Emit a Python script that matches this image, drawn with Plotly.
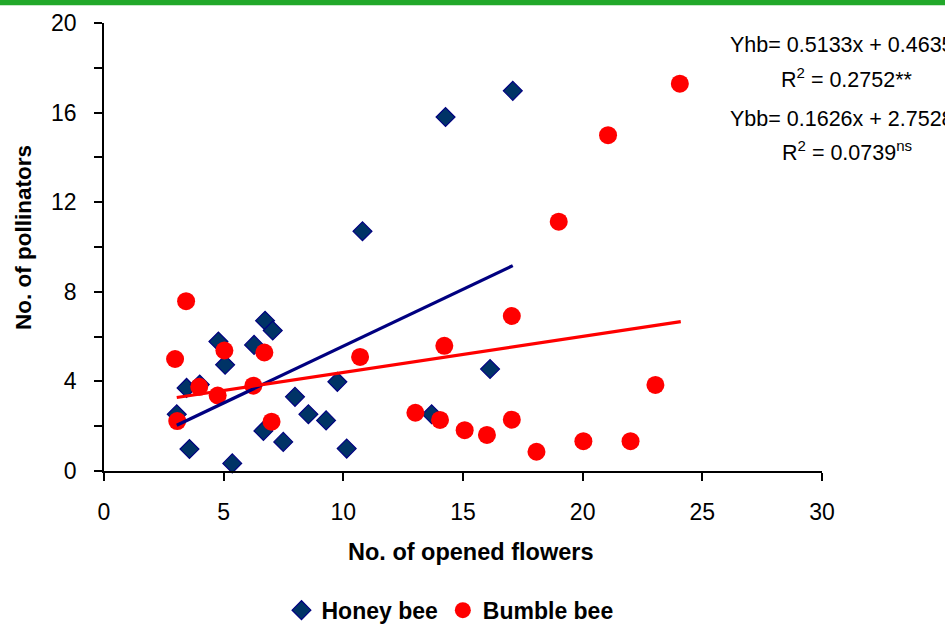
import plotly.graph_objects as go

# Honey bee observations (x: opened flowers, y: pollinators)
hb_x = [3.04, 3.45, 4.0, 3.57, 4.78, 5.06, 5.36, 6.27, 6.73, 7.05, 6.66,
        7.49, 7.98, 8.54, 9.28, 9.75, 10.14, 10.8, 13.69, 14.27, 16.13, 17.08]
hb_y = [2.53, 3.71, 3.86, 0.98, 5.78, 4.74, 0.34, 5.63, 6.71, 6.27, 1.79,
        1.30, 3.31, 2.53, 2.26, 3.98, 1.0, 10.7, 2.53, 15.8, 4.55, 16.97]

# Bumble bee observations
bb_x = [2.97, 3.06, 3.43, 3.98, 4.75, 5.03, 6.24, 6.70, 7.0, 10.7, 13.01,
        14.04, 14.22, 15.07, 16.0, 17.04, 17.04, 18.07, 19.0, 20.03, 21.06,
        22.0, 23.04, 24.06]
bb_y = [5.0, 2.23, 7.58, 3.76, 3.37, 5.38, 3.81, 5.29, 2.2, 5.09, 2.6,
        2.28, 5.59, 1.82, 1.61, 2.29, 6.92, 0.86, 11.13, 1.33, 14.99,
        1.33, 3.84, 17.29]

# Trend lines
hb_fit_x = [3.04, 17.08]
hb_fit_y = [2.04, 9.17]
bb_fit_x = [3.04, 24.1]
bb_fit_y = [3.28, 6.67]

x_ticks = [0, 5, 10, 15, 20, 25, 30]
y_ticks = [0, 4, 8, 12, 16, 20]

eq_lines = ["Yhb= 0.5133x + 0.4635", "R<sup>2</sup> = 0.2752**",
            "Ybb= 0.1626x + 2.7528", "R<sup>2</sup> = 0.0739<sup>ns</sup>"]

FONT = "Arial, Liberation Sans, sans-serif"

W, H = 945, 627
L, R, T, B = 104, 822, 22.5, 471.5
pw, ph = R - L, B - T


def px(x):
    return (x - L) / pw


def py(y):
    return (B - y) / ph


fig = go.Figure()

fig.add_trace(go.Scatter(
    x=hb_x, y=hb_y, mode="markers", name="Honey bee",
    marker=dict(symbol="diamond", size=14.5, color="#003366",
                line=dict(color="#000080", width=1.2)),
    cliponaxis=False))

fig.add_trace(go.Scatter(
    x=bb_x, y=bb_y, mode="markers", name="Bumble bee",
    marker=dict(symbol="circle", size=18, color="#FF0000",
                line=dict(width=0)),
    cliponaxis=False))

fig.add_trace(go.Scatter(
    x=hb_fit_x, y=hb_fit_y, mode="lines", showlegend=False,
    line=dict(color="#000080", width=3.2)))

fig.add_trace(go.Scatter(
    x=bb_fit_x, y=bb_fit_y, mode="lines", showlegend=False,
    line=dict(color="#FF0000", width=3.2)))

fig.update_layout(
    width=W, height=H,
    margin=dict(l=L, r=W - R, t=T, b=H - B, pad=0, autoexpand=False),
    paper_bgcolor="white", plot_bgcolor="white",
    font=dict(family=FONT, color="black", size=22),
    showlegend=True,
    legend=dict(orientation="h", x=px(450), y=py(611), xanchor="center",
                yanchor="middle", font=dict(size=23, family=FONT, weight="bold"),
                bgcolor="rgba(0,0,0,0)", itemwidth=30),
)

fig.update_xaxes(
    range=[0, 30], tickvals=x_ticks, ticktext=[str(v) for v in x_ticks],
    showgrid=False, zeroline=False, showline=True, linecolor="black",
    linewidth=1.8, ticks="outside", ticklen=8, tickwidth=1.5,
    tickcolor="black", tickfont=dict(size=23), ticklabelstandoff=11)

fig.update_yaxes(
    range=[0, 20], tickvals=y_ticks, ticktext=[str(v) for v in y_ticks],
    showgrid=False, zeroline=False, showline=True, linecolor="black",
    linewidth=1.8, ticks="outside", ticklen=8, tickwidth=1.5,
    tickcolor="black", tickfont=dict(size=23), ticklabelstandoff=13,
    minor=dict(tickvals=[2, 6, 10, 14, 18], ticks="outside", ticklen=8,
               tickwidth=1.5, tickcolor="black", showgrid=False))

# axis titles
fig.add_annotation(text="<b>No. of opened flowers</b>", xref="paper",
                   yref="paper", x=px(470), y=py(553), showarrow=False,
                   xanchor="center", yanchor="middle",
                   font=dict(size=23.5, family=FONT))
fig.add_annotation(text="<b>No. of pollinators</b>", xref="paper",
                   yref="paper", x=px(23), y=py(238), showarrow=False,
                   xanchor="center", yanchor="middle", textangle=-90,
                   font=dict(size=22.5, family=FONT))

# equations
eq_pos = [(728, 45), (779, 78), (728, 119), (780, 151)]
for txt, (ex, ey) in zip(eq_lines, eq_pos):
    fig.add_annotation(text=txt, xref="paper", yref="paper", x=px(ex),
                       y=py(ey), showarrow=False, xanchor="left",
                       yanchor="middle", font=dict(size=21.5, family=FONT))

# green band at top
fig.add_shape(type="rect", xref="paper", yref="paper", x0=px(-5), x1=px(W + 5),
              y0=py(4.7), y1=py(-5), fillcolor="#22A82A", line=dict(width=0),
              layer="above")

fig.write_html("out.html")
